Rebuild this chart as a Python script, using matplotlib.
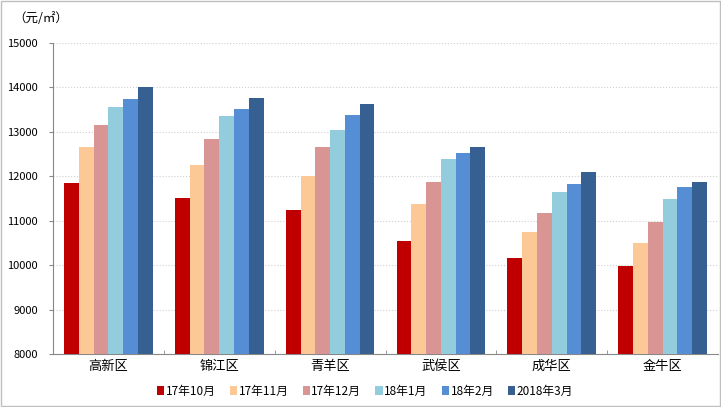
import numpy as np
import matplotlib.pyplot as plt
from matplotlib.patches import Rectangle

plt.rcParams['font.family'] = ['Noto Sans CJK SC', 'DejaVu Sans']

districts = ['高新区', '锦江区', '青羊区', '武侯区', '成华区', '金牛区']
months = ['17年10月', '17年11月', '17年12月', '18年1月', '18年2月', '2018年3月']

oct17 = [11850, 11500, 11250, 10550, 10150, 9970]
nov17 = [12650, 12250, 12000, 11370, 10750, 10500]
dec17 = [13150, 12850, 12650, 11880, 11180, 10970]
jan18 = [13570, 13350, 13050, 12380, 11650, 11480]
feb18 = [13750, 13520, 13370, 12530, 11830, 11750]
mar18 = [14000, 13770, 13620, 12660, 12100, 11880]

series = [oct17, nov17, dec17, jan18, feb18, mar18]
colors = ['#C00000', '#FCC896', '#D99594', '#93CDDD', '#558ED5', '#376092']

fig = plt.figure(figsize=(7.21, 4.07), dpi=100)
ax = fig.add_axes([53 / 721, 53 / 407, 665 / 721, 311 / 407])

x = np.arange(len(districts))
w = 0.8 / 6
for i, (vals, c) in enumerate(zip(series, colors)):
    ax.bar(x - 0.4 + w * (i + 0.5), np.array(vals) - 8000, width=w, bottom=8000,
           color=c, label=months[i], zorder=3)

ax.set_ylim(8000, 15000)
ax.set_xlim(-0.5, len(districts) - 0.5)
ax.set_yticks(np.arange(8000, 15001, 1000))
ax.tick_params(axis='y', labelsize=8, length=3, color='#888888', pad=8)
ax.set_xticks(x)
ax.set_xticklabels(districts, fontsize=9.5)
ax.tick_params(axis='x', length=0, pad=4)
ax.set_xticks(np.arange(0.5, len(districts) - 0.5), minor=True)
ax.tick_params(axis='x', which='minor', length=3, color='#888888', direction='in')
ax.grid(axis='y', color='#D0D0D0', linestyle=':', linewidth=0.8, zorder=0)

for s in ['top', 'right']:
    ax.spines[s].set_visible(False)
ax.spines['left'].set_color('#888888')
ax.spines['bottom'].set_color('#888888')

fig.text(13 / 721, 1 - 18 / 407, '（元/㎡）', fontsize=9, va='center', ha='left')

fig.legend(loc='center', bbox_to_anchor=(365 / 721, 1 - 391 / 407), ncol=6,
           frameon=False, fontsize=8.5, handlelength=0.6, handleheight=0.8,
           handletextpad=0.15, columnspacing=1.2)

fig.add_artist(Rectangle((0.002, 0.003), 0.996, 0.994, transform=fig.transFigure,
                         fill=False, edgecolor='#BFBFBF', linewidth=1))

plt.savefig('out.png', dpi=100)
